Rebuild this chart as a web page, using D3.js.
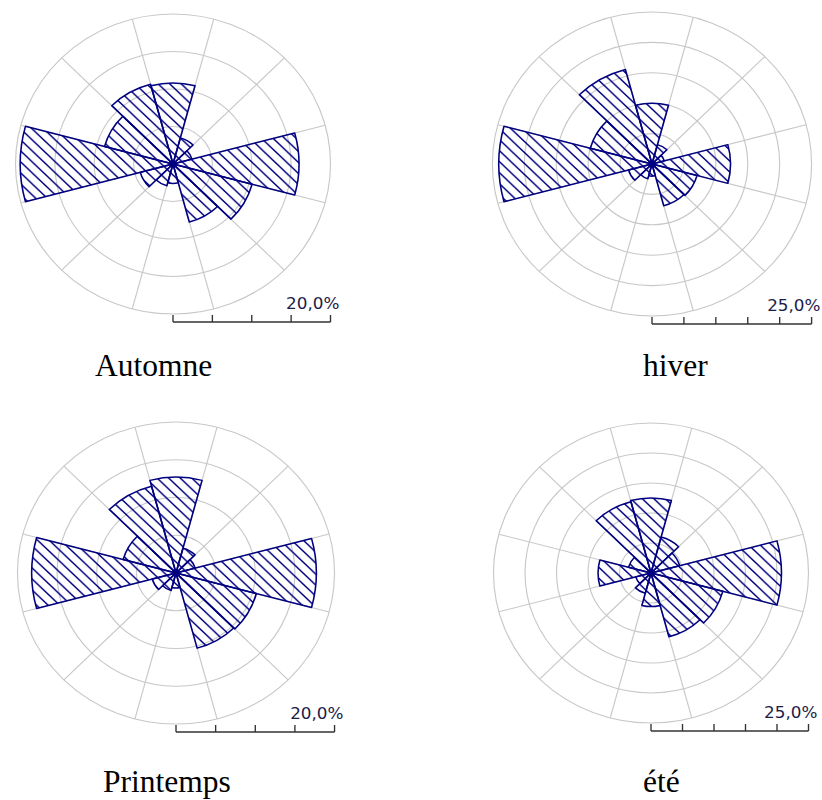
<!DOCTYPE html>
<html>
<head>
<meta charset="utf-8">
<script src="https://cdn.jsdelivr.net/npm/d3@7"></script>
<style>
  html, body { margin: 0; padding: 0; background: #fff; }
  svg { display: block; }
</style>
</head>
<body>
<svg id="chart" width="822" height="800"></svg>
<script>
// Wind sectors: centre bearing in degrees, clockwise from north, 30° each
const directions = [0, 30, 60, 90, 120, 150, 180, 210, 240, 270, 300, 330];

// Frequency (%) of winds coming from each sector, one list per season
const automne   = [10.8, 3.6, 2.5, 16.0, 10.4, 8.0, 2.6, 3.0, 4.3, 19.4, 9.0, 11.0];
const hiver     = [10.0, 3.3, 2.0, 12.3, 7.3, 7.1, 2.0, 2.5, 3.8, 24.0, 10.0, 16.1];
const printemps = [12.7, 3.4, 2.5, 17.7, 10.5, 10.3, 2.0, 2.4, 3.1, 18.2, 6.9, 11.9];
const ete       = [12.5, 6.2, 4.7, 20.7, 11.8, 11.0, 5.6, 3.5, 2.5, 8.4, 3.7, 12.3];

const seasonNames = ["Automne", "hiver", "Printemps", "été"];
const seasonValues = [automne, hiver, printemps, ete];
const scaleMax = [20, 25, 20, 25];   // value of the outer ring, %
const ringStep = 5;                   // % between two rings

// Panel placement on the page
const panels = [
  { cx: 173, cy: 164, R: 150, tx: 95,  ty: 376 },
  { cx: 652, cy: 164, R: 152, tx: 643, ty: 376 },
  { cx: 176, cy: 573, R: 151, tx: 103, ty: 792 },
  { cx: 651, cy: 573, R: 150, tx: 643, ty: 792 }
];
const stretchX = 1.05;   // roses are drawn slightly wider than tall
const navy = "#000080";
const gridColor = "#c8c8c8";

const frLocale = d3.formatLocale({ decimal: ",", thousands: " ", grouping: [3], currency: ["", " €"] });
const fmtPct = v => frLocale.format(".1f")(v) + "%";

const svg = d3.select("#chart");

// Diagonal hatching used to fill the petals
const hatchStep = 11;
const defs = svg.append("defs");
defs.append("pattern")
    .attr("id", "hatch")
    .attr("patternUnits", "userSpaceOnUse")
    .attr("width", hatchStep).attr("height", hatchStep)
  .append("path")
    .attr("d", `M-1,-1 L${hatchStep + 1},${hatchStep + 1} M-1,${hatchStep - 1} L1,${hatchStep + 1} M${hatchStep - 1},-1 L${hatchStep + 1},1`)
    .attr("stroke", navy)
    .attr("stroke-width", 1.4)
    .attr("fill", "none");

const rad = deg => deg * Math.PI / 180;
const arc = d3.arc();

seasonNames.forEach((name, i) => {
  const p = panels[i];
  const maxV = scaleMax[i];
  const r = d3.scaleLinear().domain([0, maxV]).range([0, p.R]);
  const values = seasonValues[i];

  const g = svg.append("g")
      .attr("transform", `translate(${p.cx},${p.cy}) scale(${stretchX},1)`);

  // rings every 5 %
  const rings = d3.range(ringStep, maxV + 0.001, ringStep);
  g.append("g").selectAll("circle")
    .data(rings)
    .join("circle")
      .attr("r", d => r(d))
      .attr("fill", "none")
      .attr("stroke", gridColor)
      .attr("stroke-width", 1.1);

  // spokes on the sector boundaries
  const spokes = directions.map(d => d + 15);
  g.append("g").selectAll("line")
    .data(spokes)
    .join("line")
      .attr("x1", 0).attr("y1", 0)
      .attr("x2", d => Math.sin(rad(d)) * r(maxV))
      .attr("y2", d => -Math.cos(rad(d)) * r(maxV))
      .attr("stroke", gridColor)
      .attr("stroke-width", 1.1);

  // petals
  g.append("g").selectAll("path")
    .data(directions.map((dir, k) => ({ dir, v: values[k] })))
    .join("path")
      .attr("d", d => arc({
        innerRadius: 0,
        outerRadius: r(d.v),
        startAngle: rad(d.dir - 15),
        endAngle: rad(d.dir + 15)
      }))
      .attr("fill", "url(#hatch)")
      .attr("stroke", navy)
      .attr("stroke-width", 1.5)
      .attr("stroke-linejoin", "round");

  // distance scale bar under the rose
  const barY = p.R + 8;
  const scaleG = g.append("g").attr("transform", `translate(0,${barY})`);
  scaleG.append("line")
      .attr("x1", 0).attr("x2", r(maxV))
      .attr("stroke", "#333").attr("stroke-width", 1.3);
  scaleG.selectAll("line.tick")
    .data(d3.range(0, maxV + 0.001, ringStep))
    .join("line")
      .attr("class", "tick")
      .attr("x1", d => r(d)).attr("x2", d => r(d))
      .attr("y1", 0).attr("y2", -7)
      .attr("stroke", "#333").attr("stroke-width", 1.3);
  scaleG.append("text")
      .attr("x", r(maxV) + 8.5)
      .attr("y", -13.5)
      .attr("text-anchor", "end")
      .attr("font-family", "'DejaVu Sans', Verdana, sans-serif")
      .attr("font-size", 16)
      .attr("fill", "#1c1c48")
      .text(fmtPct(maxV));

  // season name
  svg.append("text")
      .attr("x", p.tx)
      .attr("y", p.ty)
      .attr("font-family", "'Liberation Serif', 'Times New Roman', serif")
      .attr("font-size", 31.5)
      .attr("fill", "#000")
      .text(name);
});
</script>
</body>
</html>
